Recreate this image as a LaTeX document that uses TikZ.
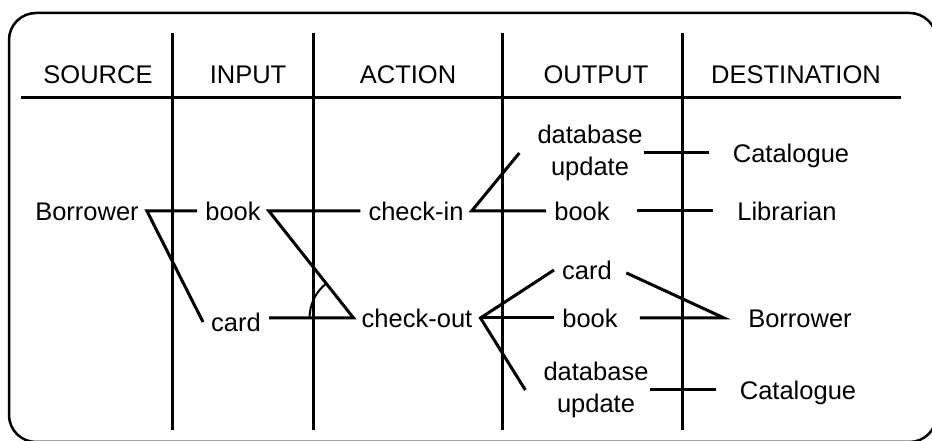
\documentclass[tikz,border=0pt]{standalone}
\usepackage{fontspec}
\setmainfont{Liberation Sans}
\usetikzlibrary{calc}

\begin{document}
\begin{tikzpicture}[x=1pt, y=1pt,
        every node/.style={font=\fontsize{25.5pt}{32pt}\selectfont},
        word/.style={text height=18.5pt, text depth=0pt, inner xsep=8pt},
        twoline/.style={align=center, inner xsep=18pt},
        sink/.style={word, inner xsep=24pt},
        link/.style={line width=3pt},
        colline/.style={line width=3pt}]
        \path[use as bounding box, clip] (0,0) rectangle (932,441);
        % frame, its right side lies past the page edge
        \draw[line width=2.5pt, rounded corners=27pt] (9,-1) rectangle (936.5,428);
        \draw[colline] (21,343) -- (901,343);
        \foreach \x in {172,313,502,682}
            \draw[colline] (\x,408) -- (\x,11);

        \node[word] (hsrc) at (98,367) {SOURCE};
        \node[word] (hin) at (248,367) {INPUT};
        \node[word] (hact) at (408,367) {ACTION};
        \node[word] (hout) at (596,367) {OUTPUT};
        \node[word] (hdst) at (796,367) {DESTINATION};

        \node[word] (brw) at (87,230) {Borrower};
        \node[word] (bk1) at (233,230) {book};
        \node[word] (crd1) at (236,119) {card};
        \node[word] (cki) at (416,230) {check-in};
        \node[word] (cko) at (417,123) {check-out};
        \node[twoline] (dbu1) at (590,288) {database\\update};
        \node[word] (bk2) at (582,230) {book};
        \node[word] (crd2) at (587,171) {card};
        \node[word] (bk3) at (590,123) {book};
        \node[twoline] (dbu2) at (596,51) {database\\update};
        \node[sink] (cat1) at (791,288) {Catalogue};
        \node[sink] (lib) at (787,230) {Librarian};
        \node[sink] (brw2) at (800,123) {Borrower};
        \node[sink] (cat2) at (798,51) {Catalogue};

        \draw[link] (bk1.west) -- (brw.east) -- (crd1.west);
        \draw[link] (cki.west) -- (bk1.east) -- (cko.west) -- (crd1.east |- cko.west);
        \draw[line width=2pt] let \p1=($(bk1.east)-(cko.west)$), \n1={atan2(\y1,\x1)} in
            ([xshift=-44pt]cko.west) arc[start angle=180, end angle=\n1, radius=44pt];
        \draw[link] (dbu1.west) -- (cki.east) -- (bk2.west);
        \draw[link] (crd2.west) -- (cko.east) -- (dbu2.west);
        \draw[link] (cko.east) -- (bk3.west);
        \draw[link, shorten <=-17pt] (dbu1.east) -- (cat1.west);
        \draw[link, shorten <=19pt] (bk2.east) -- (lib.west);
        \draw[link, shorten <=7pt, shorten >=14pt] (crd2.east) -- (brw2.west) -- (bk3.east);
        \draw[link, shorten <=-17pt] (dbu2.east) -- (cat2.west);
    \end{tikzpicture}
\end{document}
